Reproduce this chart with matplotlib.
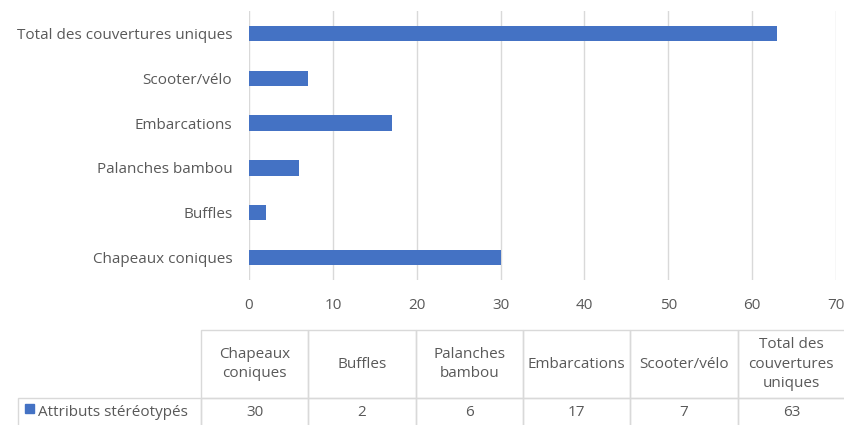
import numpy as np
import matplotlib
matplotlib.use("Agg")
import matplotlib.pyplot as plt
from matplotlib.table import Table

# data (bottom -> top in the bar chart, same order as the table columns)
categories = ["Chapeaux coniques", "Buffles", "Palanches bambou",
              "Embarcations", "Scooter/vélo", "Total des couvertures uniques"]
table_headers = ["Chapeaux\nconiques", "Buffles", "Palanches\nbambou",
                 "Embarcations", "Scooter/vélo", "Total des\ncouvertures\nuniques"]
values = [30, 2, 6, 17, 7, 63]
series_name = "Attributs stéréotypés"
x_ticks = [0, 10, 20, 30, 40, 50, 60, 70]

bar_color = "#4472C4"
text_color = "#595959"
grid_color = "#D9D9D9"

plt.rcParams["font.family"] = ["Open Sans", "DejaVu Sans"]

W, H = 845, 425
fig = plt.figure(figsize=(W / 100, H / 100), dpi=100)

# ---- bar chart ----
ax = fig.add_axes([249 / W, 1 - 280 / H, (836 - 249) / W, (280 - 11) / H])
y = np.arange(len(categories))
ax.barh(y, values, height=0.34, color=bar_color, zorder=3)
ax.set_xlim(0, 70)
ax.set_ylim(-0.5, len(categories) - 0.5)
ax.set_xticks(x_ticks)
ax.set_yticks(y)
ax.set_yticklabels(categories)
ax.grid(True, axis="x", color=grid_color, linewidth=1, zorder=0)
for s in ax.spines.values():
    s.set_visible(False)
ax.tick_params(axis="both", length=0, colors=text_color, labelsize=11)
ax.tick_params(axis="x", pad=13)
ax.tick_params(axis="y", pad=12)

# ---- data table below ----
tab_ax = fig.add_axes([0, 0, 1, 1])
tab_ax.set_xlim(0, W)
tab_ax.set_ylim(H, 0)
tab_ax.axis("off")

left, top = 18, 330
label_w = 201 - left
col_w = (845 - 201) / len(categories)
head_h, row_h = 68, 28
total_w = label_w + col_w * len(categories)
total_h = head_h + row_h

tab = Table(tab_ax, bbox=[left / W, 1 - (top + total_h) / H, total_w / W, total_h / H])
fw = [label_w / total_w] + [col_w / total_w] * len(categories)
fh = [head_h / total_h, row_h / total_h]

corner = tab.add_cell(0, 0, fw[0], fh[0], text="")
corner.visible_edges = ""
for j, h in enumerate(table_headers):
    c = tab.add_cell(0, j + 1, fw[j + 1], fh[0], text=h, loc="center")
    c.get_text().set_color(text_color)
    c.get_text().set_linespacing(1.45)
lab = tab.add_cell(1, 0, fw[0], fh[1], text="    " + series_name, loc="left")
lab.get_text().set_color(text_color)
lab.PAD = 0.02
for j, v in enumerate(values):
    c = tab.add_cell(1, j + 1, fw[j + 1], fh[1], text=str(v), loc="center")
    c.get_text().set_color(text_color)

for cell in tab.get_celld().values():
    cell.set_edgecolor(grid_color)
    cell.set_linewidth(1)
    cell.set_facecolor("none")
tab.auto_set_font_size(False)
tab.set_fontsize(11)
tab_ax.add_table(tab)

# legend key square in the row label cell
tab_ax.add_patch(plt.Rectangle((25, 404), 9, 9, color=bar_color))

fig.savefig("out.png", dpi=100)
